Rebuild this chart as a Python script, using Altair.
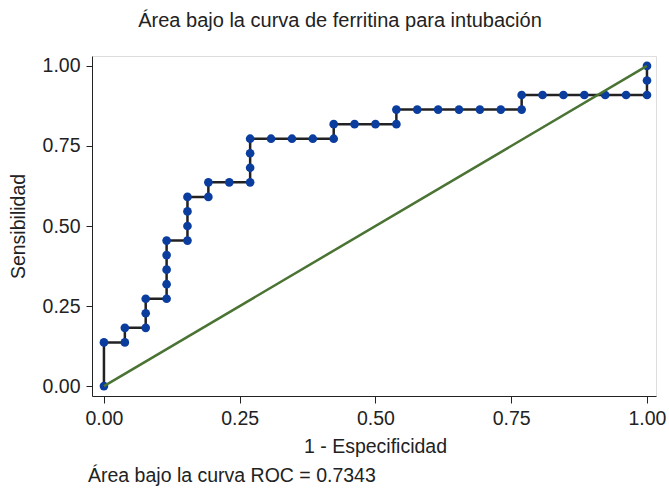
import altair as alt
import pandas as pd

# 1 - especificidad (x) and sensibilidad (y) for each ROC point, in order
fpr = [0.0, 0.0, 0.0385, 0.0385, 0.0769, 0.0769, 0.0769, 0.1154, 0.1154, 0.1154,
       0.1154, 0.1154, 0.1538, 0.1538, 0.1538, 0.1538, 0.1923, 0.1923, 0.2308,
       0.2692, 0.2692, 0.2692, 0.2692, 0.3077, 0.3462, 0.3846, 0.4231, 0.4231,
       0.4615, 0.5, 0.5385, 0.5385, 0.5769, 0.6154, 0.6538, 0.6923, 0.7308,
       0.7692, 0.7692, 0.8077, 0.8462, 0.8846, 0.9231, 0.9615, 1.0, 1.0, 1.0]
tpr = [0.0, 0.1364, 0.1364, 0.1818, 0.1818, 0.2273, 0.2727, 0.2727, 0.3182, 0.3636,
       0.4091, 0.4545, 0.4545, 0.5, 0.5455, 0.5909, 0.5909, 0.6364, 0.6364,
       0.6364, 0.6818, 0.7273, 0.7727, 0.7727, 0.7727, 0.7727, 0.7727, 0.8182,
       0.8182, 0.8182, 0.8182, 0.8636, 0.8636, 0.8636, 0.8636, 0.8636, 0.8636,
       0.8636, 0.9091, 0.9091, 0.9091, 0.9091, 0.9091, 0.9091, 0.9091, 0.9545, 1.0]
ref_x = [0.0, 1.0]
ref_y = [0.0, 1.0]
tick_vals = [0.0, 0.25, 0.5, 0.75, 1.0]

title_text = "Área bajo la curva de ferritina para intubación"
caption_text = "Área bajo la curva ROC = 0.7343"

FONT = "Liberation Sans"
FS = 19.5
W, H = 564, 340

roc = pd.DataFrame({"x": fpr, "y": tpr, "i": list(range(len(fpr)))})
ref = pd.DataFrame({"x": ref_x, "y": ref_y})

xscale = alt.Scale(domain=[-0.022, 1.0166], nice=False, zero=False)
yscale = alt.Scale(domain=[-0.031, 1.031], nice=False, zero=False)

xaxis = alt.Axis(values=tick_vals, format=".2f", title="1 - Especificidad",
                 grid=False, domainColor="#222222", tickColor="#222222",
                 tickSize=7, labelPadding=6, labelFontSize=FS, labelFont=FONT,
                 labelColor="#222222", titleFont=FONT, titleFontSize=FS,
                 titleFontWeight="normal", titleColor="#222222",
                 titleX=283, titleY=50, titleBaseline="middle", titleAlign="center")
yaxis = alt.Axis(values=tick_vals, format=".2f", title="Sensibilidad",
                 grid=False, domainColor="#222222", tickColor="#222222",
                 tickSize=6, labelPadding=6, labelFontSize=FS, labelFont=FONT,
                 labelColor="#222222", titleFont=FONT, titleFontSize=FS,
                 titleFontWeight="normal", titleColor="#222222",
                 titleX=-74, titleY=170, titleAngle=-90, titleBaseline="middle",
                 titleAlign="center")

line = alt.Chart(roc).mark_line(color="#222222", strokeWidth=2.5).encode(
    x=alt.X("x:Q", scale=xscale, axis=xaxis),
    y=alt.Y("y:Q", scale=yscale, axis=yaxis),
    order="i:Q",
)
diag = alt.Chart(ref).mark_line(color="#4a7334", strokeWidth=2.5).encode(
    x=alt.X("x:Q", scale=xscale),
    y=alt.Y("y:Q", scale=yscale),
)
pts = alt.Chart(roc).mark_point(filled=True, color="#0b3d9e", size=75, opacity=1).encode(
    x=alt.X("x:Q", scale=xscale),
    y=alt.Y("y:Q", scale=yscale),
)

title = alt.Chart(pd.DataFrame({"t": [title_text]})).mark_text(
    font=FONT, fontSize=20, color="#222222", align="center", baseline="middle"
).encode(x=alt.value(248), y=alt.value(-35), text="t:N")

caption = alt.Chart(pd.DataFrame({"t": [caption_text]})).mark_text(
    font=FONT, fontSize=FS, color="#222222", align="left", baseline="middle"
).encode(x=alt.value(-4), y=alt.value(420), text="t:N")

chart = alt.layer(line, pts, diag, title, caption).properties(
    width=W, height=H,
    autosize=alt.AutoSizeParams(type="none"),
    padding={"left": 92, "top": 56, "right": 13, "bottom": 92},
).configure_view(stroke=None).configure(background="white")

chart.save("out.html", embed_options={"renderer": "svg", "actions": False})
